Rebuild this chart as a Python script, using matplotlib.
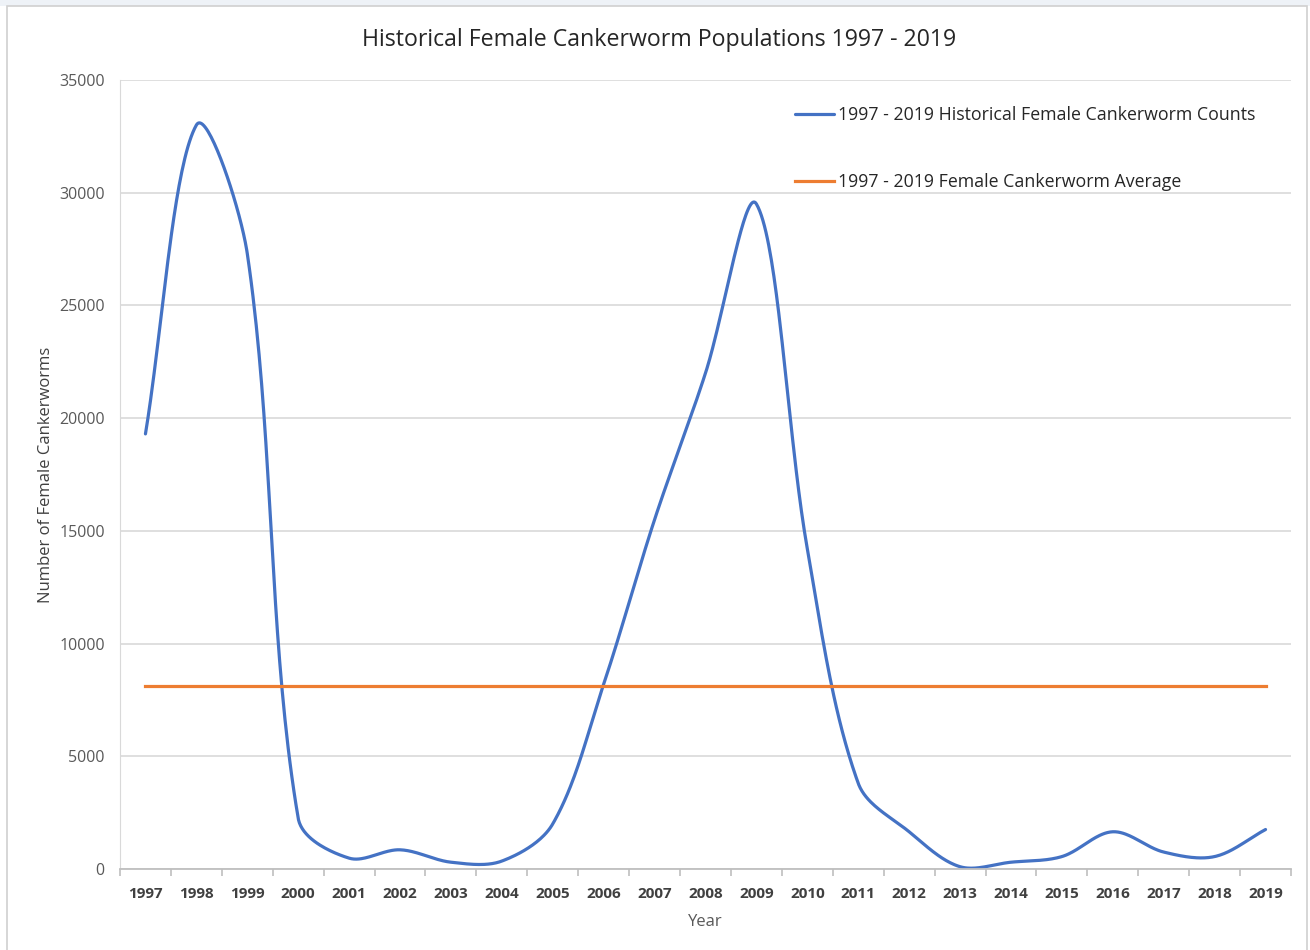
import numpy as np
import matplotlib.pyplot as plt
from matplotlib.patches import Rectangle

# Yearly female cankerworm counts
years = list(range(1997, 2020))
counts = [19300, 33000, 27300, 2250, 480, 850, 300, 350, 2000, 8200, 15500,
          22000, 29500, 14200, 3800, 1650, 100, 300, 550, 1650, 750, 550, 1750]
average = sum(counts) / len(counts)

blue = "#4472C4"
orange = "#ED7D31"
grid_c = "#D9D9D9"
text_c = "#404040"

plt.rcParams['font.family'] = ['Open Sans', 'DejaVu Sans']

# pixel size of one year and one count, so the spline is built in screen space
PX_YEAR = 50.86
PX_COUNT = 789 / 35000


def smooth(xs, ys, n=40):
    # smoothed line as cubic Beziers; the tangent at each point is the
    # neighbour difference, shared out between both sides by segment length
    p = np.column_stack([np.asarray(xs, float) * PX_YEAR,
                         np.asarray(ys, float) * PX_COUNT])
    p = np.vstack([p[0], p, p[-1]])
    t = np.linspace(0, 1, n)[:, None]
    out = []
    for i in range(1, len(p) - 2):
        p0, p1, p2, p3 = p[i - 1], p[i], p[i + 1], p[i + 2]
        d01 = np.linalg.norm(p1 - p0)
        d12 = np.linalg.norm(p2 - p1)
        d23 = np.linalg.norm(p3 - p2)
        c1 = p1 + (p2 - p0) * d12 / (d01 + d12) / 3
        c2 = p2 - (p3 - p1) * d12 / (d12 + d23) / 3
        b = (1 - t) ** 3 * p1 + 3 * (1 - t) ** 2 * t * c1 \
            + 3 * (1 - t) * t ** 2 * c2 + t ** 3 * p2
        out.append(b)
    out = np.vstack(out)
    return out[:, 0] / PX_YEAR, out[:, 1] / PX_COUNT


fig = plt.figure(figsize=(13.1, 9.5), dpi=100)
ax = fig.add_axes([0.0916, 0.0853, 0.8939, 0.8305])

sx, sy = smooth(years, counts)
ax.plot(sx, sy, color=blue, lw=2.3, solid_capstyle='round',
        label="1997 - 2019 Historical Female Cankerworm Counts")
ax.plot([years[0], years[-1]], [average, average], color=orange, lw=2.3,
        label="1997 - 2019 Female Cankerworm Average")

ax.set_xlim(1996.5, 2019.5)
ax.set_ylim(0, 35000)
ax.set_yticks(range(0, 35001, 5000))
ax.set_xticks(years)
ax.set_xticks(np.arange(1996.5, 2020, 1), minor=True)
ax.tick_params(axis='x', which='major', length=0, pad=13, labelsize=11,
               labelcolor=text_c)
for lab in ax.get_xticklabels():
    lab.set_fontweight('bold')
ax.tick_params(axis='x', which='minor', length=5, color="#BFBFBF", width=1.2)
ax.tick_params(axis='y', length=0, pad=11, labelsize=11.5, labelcolor="#595959")

ax.grid(axis='y', color=grid_c, lw=1.2)
ax.set_axisbelow(True)
for side in ['top', 'right']:
    ax.spines[side].set_visible(False)
ax.spines['left'].set_color(grid_c)
ax.spines['bottom'].set_color("#BFBFBF")
ax.spines['bottom'].set_linewidth(1.3)

ax.set_xlabel("Year", fontsize=12, color="#595959", labelpad=9)
ax.set_ylabel("Number of Female Cankerworms", fontsize=12, color=text_c, labelpad=4)
fig.text(0.503, 0.958, "Historical Female Cankerworm Populations 1997 - 2019",
         ha='center', va='center', fontsize=16.7, color="#262626")

ax.legend(loc='upper left', bbox_to_anchor=(0.563, 0.987), frameon=False,
          fontsize=12.8, handlelength=2.2, handletextpad=0.2, labelspacing=2.75,
          labelcolor="#262626")

# chart border and the strip above it
fig.patches.append(Rectangle((0, 0.994), 1, 0.006, transform=fig.transFigure,
                             facecolor="#EEF2F7", edgecolor='none'))
fig.patches.append(Rectangle((0.005, -0.01), 0.993, 1.004, transform=fig.transFigure,
                             fill=False, edgecolor="#D0D0D0", lw=1.2))

fig.savefig("out.png", dpi=100)
